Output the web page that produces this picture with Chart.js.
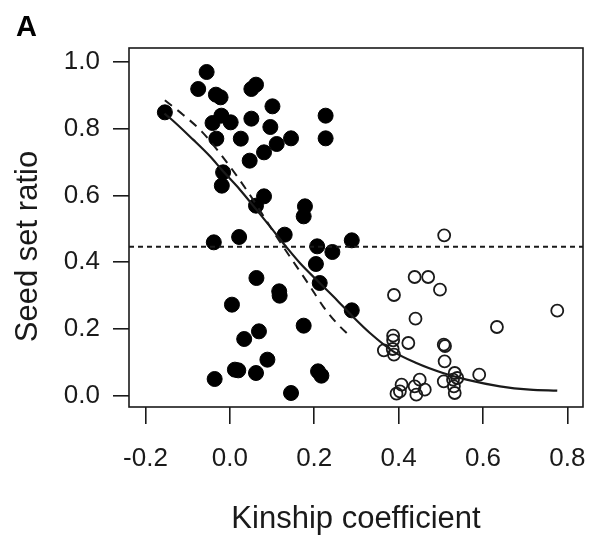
<!DOCTYPE html>
<html>
<head>
<meta charset="utf-8">
<script src="https://cdn.jsdelivr.net/npm/chart.js@4.4.0/dist/chart.umd.min.js"></script>
<style>
  html, body { margin: 0; padding: 0; background: #fff; }
  #wrap { width: 592px; height: 536px; }
</style>
</head>
<body>
<div id="wrap"><canvas id="scatter" width="592" height="536"></canvas></div>
<script>
// filled circles
const filledX = [-0.154, -0.055, -0.075, -0.033, -0.022, 0.051, 0.062, 0.101, -0.020, -0.041,
  0.002, 0.051, 0.096, 0.227, 0.227, -0.032, 0.026, 0.145, 0.111, 0.081,
  0.047, -0.016, -0.019, 0.081, 0.062, 0.178, 0.175, 0.130, -0.038, 0.022,
  0.207, 0.243, 0.289, 0.204, 0.063, 0.213, 0.117, 0.118, 0.005, 0.289,
  0.175, 0.069, 0.034, 0.089, 0.012, 0.020, 0.062, 0.209, 0.217, -0.036, 0.145];
const filledY = [0.849, 0.970, 0.919, 0.902, 0.894, 0.919, 0.932, 0.867, 0.839, 0.817,
  0.819, 0.830, 0.805, 0.839, 0.771, 0.770, 0.770, 0.771, 0.754, 0.729,
  0.704, 0.669, 0.629, 0.597, 0.569, 0.567, 0.537, 0.482, 0.459, 0.475,
  0.447, 0.430, 0.465, 0.394, 0.352, 0.337, 0.312, 0.299, 0.272, 0.255,
  0.209, 0.192, 0.169, 0.107, 0.077, 0.075, 0.067, 0.072, 0.059, 0.049, 0.007];

// open circles
const openX = [0.508, 0.438, 0.470, 0.498, 0.389, 0.440, 0.776, 0.633,
  0.387, 0.387, 0.423, 0.365, 0.386, 0.389,
  0.507, 0.510, 0.509, 0.591,
  0.533, 0.539, 0.529, 0.507, 0.531, 0.533,
  0.407, 0.403, 0.395, 0.450, 0.438, 0.462, 0.442];
const openY = [0.480, 0.355, 0.355, 0.317, 0.301, 0.230, 0.254, 0.205,
  0.179, 0.165, 0.157, 0.135, 0.139, 0.122,
  0.152, 0.148, 0.102, 0.062,
  0.067, 0.052, 0.047, 0.042, 0.027, 0.007,
  0.032, 0.012, 0.005, 0.047, 0.027, 0.017, 0.002];

// solid fitted curve
const solidX = [-0.155, -0.142, -0.087, -0.047, -0.016, 0.024, 0.063, 0.095, 0.130, 0.166,
  0.213, 0.253, 0.290, 0.332, 0.387, 0.442, 0.505, 0.561, 0.640, 0.711, 0.776];
const solidY = [0.845, 0.832, 0.767, 0.717, 0.672, 0.617, 0.557, 0.507, 0.451, 0.397,
  0.337, 0.287, 0.238, 0.187, 0.132, 0.097, 0.067, 0.047, 0.027, 0.017, 0.014];

// dashed fitted curve
const dashX = [-0.154, -0.111, -0.067, -0.024, 0.020, 0.055, 0.095, 0.126, 0.158, 0.190, 0.221, 0.253, 0.287];
const dashY = [0.885, 0.842, 0.792, 0.727, 0.652, 0.587, 0.507, 0.447, 0.387, 0.327, 0.267, 0.217, 0.175];

// horizontal dotted threshold
const cutoff = 0.446;

const xTicks = [-0.2, 0.0, 0.2, 0.4, 0.6, 0.8];
const yTicks = [0.0, 0.2, 0.4, 0.6, 0.8, 1.0];
const xRange = [-0.239, 0.837];
const yRange = [-0.035, 1.042];

function pairs(xs, ys) {
  return xs.map(function (x, i) { return { x: x, y: ys[i] }; });
}

const ink = "#1a1a1a";
const fontFam = "'Liberation Sans', Arial, sans-serif";

// box around plot + panel letter + y title
const boxPlugin = {
  id: "box",
  afterDraw(chart) {
    const a = chart.chartArea;
    const ctx = chart.ctx;
    ctx.save();
    ctx.strokeStyle = ink;
    ctx.lineWidth = 1.6;
    ctx.strokeRect(a.left, a.top, a.right - a.left, a.bottom - a.top);

    ctx.fillStyle = "#000";
    ctx.font = "bold 29px " + fontFam;
    ctx.textAlign = "left";
    ctx.textBaseline = "alphabetic";
    ctx.fillText("A", 16, 36);

    ctx.fillStyle = ink;
    ctx.font = "31px " + fontFam;
    ctx.translate(37, (a.top + a.bottom) / 2 + 19);
    ctx.rotate(-Math.PI / 2);
    ctx.textAlign = "center";
    ctx.fillText("Seed set ratio", 0, 0);
    ctx.restore();
  },
};

const ctx = document.getElementById("scatter");
new Chart(ctx, {
  type: "scatter",
  data: {
    datasets: [
      {
        label: "threshold",
        type: "line",
        data: [{ x: xRange[0], y: cutoff }, { x: xRange[1], y: cutoff }],
        borderColor: ink,
        borderWidth: 2,
        borderDash: [5, 4],
        pointRadius: 0,
        fill: false,
      },
      {
        label: "fit dashed",
        type: "line",
        data: pairs(dashX, dashY),
        borderColor: ink,
        borderWidth: 2,
        borderDash: [9, 7],
        pointRadius: 0,
        cubicInterpolationMode: "monotone",
        fill: false,
      },
      {
        label: "fit",
        type: "line",
        data: pairs(solidX, solidY),
        borderColor: ink,
        borderWidth: 2.2,
        pointRadius: 0,
        cubicInterpolationMode: "monotone",
        fill: false,
      },
      {
        label: "open",
        data: pairs(openX, openY),
        backgroundColor: "rgba(0,0,0,0)",
        borderColor: ink,
        borderWidth: 1.8,
        pointRadius: 6,
      },
      {
        label: "filled",
        data: pairs(filledX, filledY),
        backgroundColor: "#000",
        borderColor: "#000",
        borderWidth: 1,
        pointRadius: 7.5,
      },
    ],
  },
  options: {
    responsive: false,
    animation: false,
    events: [],
    layout: { padding: { left: 0, right: 9, top: 48, bottom: 0 } },
    plugins: {
      legend: { display: false },
      tooltip: { enabled: false },
    },
    scales: {
      x: {
        type: "linear",
        min: xRange[0],
        max: xRange[1],
        afterBuildTicks(axis) {
          axis.ticks = xTicks.map(function (v) { return { value: v }; });
        },
        afterFit(axis) {
          axis.height = 129;
          axis.paddingLeft = 0;
          axis.paddingRight = 0;
        },
        grid: {
          drawOnChartArea: false,
          drawTicks: true,
          tickLength: 17,
          color: ink,
          lineWidth: 1.6,
        },
        border: { display: false },
        ticks: {
          color: ink,
          padding: 19,
          maxRotation: 0,
          font: { family: fontFam, size: 26 },
          callback: function (v) { return v.toFixed(1); },
        },
        title: {
          display: true,
          text: "Kinship coefficient",
          color: ink,
          font: { family: fontFam, size: 31 },
          padding: { top: 0, bottom: -2 },
        },
      },
      y: {
        type: "linear",
        min: yRange[0],
        max: yRange[1],
        afterBuildTicks(axis) {
          axis.ticks = yTicks.map(function (v) { return { value: v }; });
        },
        afterFit(axis) {
          axis.width = 129;
          axis.paddingTop = 0;
          axis.paddingBottom = 0;
        },
        grid: {
          drawOnChartArea: false,
          drawTicks: true,
          tickLength: 16,
          color: ink,
          lineWidth: 1.6,
        },
        border: { display: false },
        ticks: {
          color: ink,
          padding: 13,
          font: { family: fontFam, size: 26 },
          callback: function (v) { return v.toFixed(1); },
        },
      },
    },
  },
  plugins: [boxPlugin],
});
</script>
</body>
</html>
